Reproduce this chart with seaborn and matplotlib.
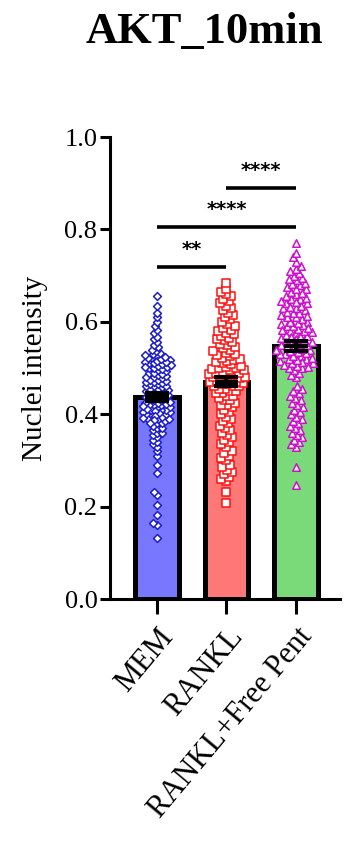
import matplotlib
matplotlib.use("Agg")
import matplotlib.pyplot as plt
import seaborn as sns
import pandas as pd

groups = ["MEM", "RANKL", "RANKL+Free Pent"]
bar_means = [0.437, 0.470, 0.547]
bar_sems = [0.009, 0.010, 0.011]

mem_vals = [
    0.132, 0.160, 0.165, 0.182, 0.203, 0.225, 0.232, 0.273, 0.290,
    0.310, 0.320, 0.330, 0.335, 0.340, 0.345, 0.350, 0.355, 0.360, 0.360,
    0.365, 0.370, 0.370, 0.375, 0.380, 0.380, 0.385, 0.390, 0.390, 0.390,
    0.395, 0.400, 0.400, 0.400, 0.405, 0.405, 0.410, 0.410, 0.410, 0.415,
    0.415, 0.420, 0.420, 0.420, 0.425, 0.425, 0.430, 0.430,
    0.432, 0.435, 0.435, 0.438, 0.440, 0.440, 0.442, 0.445, 0.445, 0.448,
    0.450, 0.450, 0.452, 0.455, 0.455, 0.458, 0.460, 0.460, 0.462, 0.465,
    0.465, 0.468, 0.470, 0.470, 0.472, 0.475, 0.475, 0.478, 0.480, 0.480,
    0.483, 0.485, 0.488, 0.490, 0.490, 0.493, 0.495, 0.498, 0.500, 0.500,
    0.402, 0.407, 0.412, 0.417, 0.422, 0.427, 0.397, 0.392, 0.387, 0.382,
    0.502, 0.505, 0.508, 0.511, 0.514, 0.517, 0.519, 0.522, 0.526, 0.530,
    0.503, 0.506, 0.510, 0.513, 0.516, 0.520, 0.524, 0.528, 0.532, 0.536,
    0.540, 0.545, 0.550, 0.556, 0.562, 0.568, 0.575, 0.582, 0.590, 0.600,
    0.610, 0.620, 0.635, 0.655,
]

rankl_vals = [
    0.207, 0.232, 0.255, 0.260, 0.265, 0.270, 0.275, 0.280, 0.285, 0.290,
    0.300, 0.305, 0.310, 0.315, 0.320, 0.330, 0.335, 0.340, 0.345, 0.350,
    0.355, 0.360, 0.365, 0.370, 0.375, 0.380, 0.385, 0.390, 0.395, 0.400,
    0.405, 0.410, 0.415, 0.420, 0.420, 0.425, 0.430, 0.430, 0.435, 0.440,
    0.440, 0.445, 0.445, 0.450, 0.450, 0.455, 0.455, 0.460, 0.460, 0.462,
    0.465, 0.465, 0.468, 0.470, 0.470, 0.472, 0.475, 0.475, 0.478, 0.480,
    0.480, 0.482, 0.485, 0.485, 0.488, 0.490, 0.490, 0.492, 0.495, 0.495,
    0.498, 0.500, 0.500, 0.503, 0.505, 0.508, 0.510, 0.512, 0.515, 0.518,
    0.520, 0.522, 0.525, 0.528, 0.530,
    0.533, 0.536, 0.540, 0.543, 0.546, 0.550, 0.553, 0.556, 0.560, 0.563,
    0.566, 0.570, 0.573, 0.576, 0.580, 0.583, 0.586, 0.590, 0.595, 0.600,
    0.605, 0.610, 0.615, 0.620, 0.625, 0.630, 0.635, 0.640, 0.645, 0.650,
    0.655, 0.660, 0.665, 0.672, 0.684,
]

pent_vals = [
    0.247, 0.286, 0.330, 0.335, 0.340, 0.345, 0.350, 0.355, 0.360, 0.365,
    0.370, 0.375, 0.380, 0.385, 0.390, 0.395, 0.400, 0.405, 0.410, 0.415,
    0.420, 0.425, 0.430, 0.435, 0.440, 0.445, 0.450, 0.455, 0.460,
    0.480, 0.485, 0.490, 0.495, 0.500, 0.500, 0.505, 0.510, 0.510, 0.515,
    0.520, 0.520, 0.525, 0.530, 0.530, 0.535, 0.540, 0.540, 0.545, 0.550,
    0.550, 0.555, 0.560, 0.560, 0.565, 0.570, 0.570, 0.575, 0.580, 0.580,
    0.585, 0.590, 0.590, 0.595, 0.600, 0.600,
    0.502, 0.512, 0.522, 0.532, 0.542, 0.552, 0.562, 0.572, 0.582, 0.592,
    0.507, 0.517, 0.527, 0.537, 0.547, 0.557, 0.567, 0.577, 0.587, 0.597,
    0.605, 0.610, 0.610, 0.615, 0.620, 0.620, 0.625, 0.630, 0.630, 0.635,
    0.640, 0.640, 0.645, 0.650, 0.650, 0.655, 0.660, 0.665, 0.670, 0.675,
    0.680, 0.685, 0.690, 0.695, 0.700, 0.705, 0.710, 0.715, 0.720, 0.730,
    0.740, 0.750, 0.770, 0.612, 0.622, 0.632, 0.642, 0.652, 0.662, 0.672,
    0.682, 0.692,
]

bar_colors = ["#7878ff", "#ff7878", "#7ada7a"]
point_colors = ["#1c1cc8", "#ff1010", "#cc10cc"]
point_markers = ["D", "s", "^"]
swarm_sizes = [2.1, 2.9, 3.0]     # spacing used to lay out the swarm
marker_sizes = [4.0, 5.2, 5.4]    # drawn marker size (points may overlap)

# significance brackets: (left group, right group, height, label)
brackets = [(0, 1, 0.719, "**"), (0, 2, 0.805, "****"), (1, 2, 0.890, "****")]

sns.set_style("ticks")
plt.rcParams["font.family"] = ["Liberation Serif", "DejaVu Serif"]
for key in ["text.color", "axes.labelcolor", "xtick.color", "ytick.color",
            "axes.edgecolor"]:
    plt.rcParams[key] = "black"

fig = plt.figure(figsize=(3.45, 8.41), dpi=100)
ax = fig.add_axes([110 / 345, 1 - 599 / 841, 230 / 345, 462 / 841])

bar_df = pd.DataFrame({"group": groups, "mean": bar_means})
sns.barplot(data=bar_df, x="group", y="mean", hue="group", order=groups,
            palette=bar_colors, saturation=1, width=0.63, edgecolor="black",
            linewidth=3.6, legend=False, ax=ax, zorder=1)

swarm_colls = []
for i, vals in enumerate([mem_vals, rankl_vals, pent_vals]):
    col = point_colors[i]
    df = pd.DataFrame({"group": groups[i], "value": vals})
    n_before = len(ax.collections)
    sns.swarmplot(data=df, x="group", y="value", order=groups, color=col,
                  marker=point_markers[i], size=swarm_sizes[i], linewidth=1.0,
                  edgecolor=col, ax=ax, zorder=3, warn_thresh=1.0)
    for coll in ax.collections[n_before:]:
        swarm_colls.append((coll, i))

ax.set_xlim(-0.676, 2.633)
ax.set_ylim(0, 1.0)

# lay out the swarms with the tight spacing, then freeze the positions and
# enlarge the markers so neighbouring points overlap a little
fig.canvas.draw()
for coll, i in swarm_colls:
    if "draw" in coll.__dict__:
        del coll.__dict__["draw"]
    coll.set_facecolor("white")
    coll.set_edgecolor(point_colors[i])
    coll.set_linewidth(1.1)
    coll.set_sizes([marker_sizes[i] ** 2])

ax.errorbar(range(len(groups)), bar_means, yerr=bar_sems, fmt="none",
            ecolor="black", elinewidth=3.0, capsize=8.5, capthick=3.0, zorder=5)
ax.hlines(bar_means, [i - 0.17 for i in range(3)], [i + 0.17 for i in range(3)],
          colors="black", linewidth=3.0, zorder=5)

for a, b, h, lab in brackets:
    ax.plot([a, b], [h, h], color="black", linewidth=2.6, solid_capstyle="butt",
            clip_on=False, zorder=6)
    ax.text((a + b) / 2, h + 0.038, lab, ha="center", va="center",
            fontsize=14, fontweight="bold", family="DejaVu Sans")

ax.set_yticks([0.0, 0.2, 0.4, 0.6, 0.8, 1.0])
ax.set_yticklabels([f"{v:.1f}" for v in [0.0, 0.2, 0.4, 0.6, 0.8, 1.0]])
ax.set_xlabel("")
ax.set_ylabel("Nuclei intensity", fontsize=21, labelpad=12)
ax.tick_params(axis="y", labelsize=19, width=2.2, length=7, pad=2)
ax.tick_params(axis="x", labelsize=22, width=2.2, length=11, pad=6)
for lbl in ax.get_xticklabels():
    lbl.set_rotation(50)
    lbl.set_ha("right")
    lbl.set_rotation_mode("anchor")

sns.despine(ax=ax)
ax.spines["left"].set_linewidth(2.2)
ax.spines["bottom"].set_linewidth(2.2)

fig.text(204 / 345, 1 - 32 / 841, "AKT_10min", ha="center", va="center",
         fontsize=32, fontweight="bold")

fig.savefig("out.png", dpi=100)
